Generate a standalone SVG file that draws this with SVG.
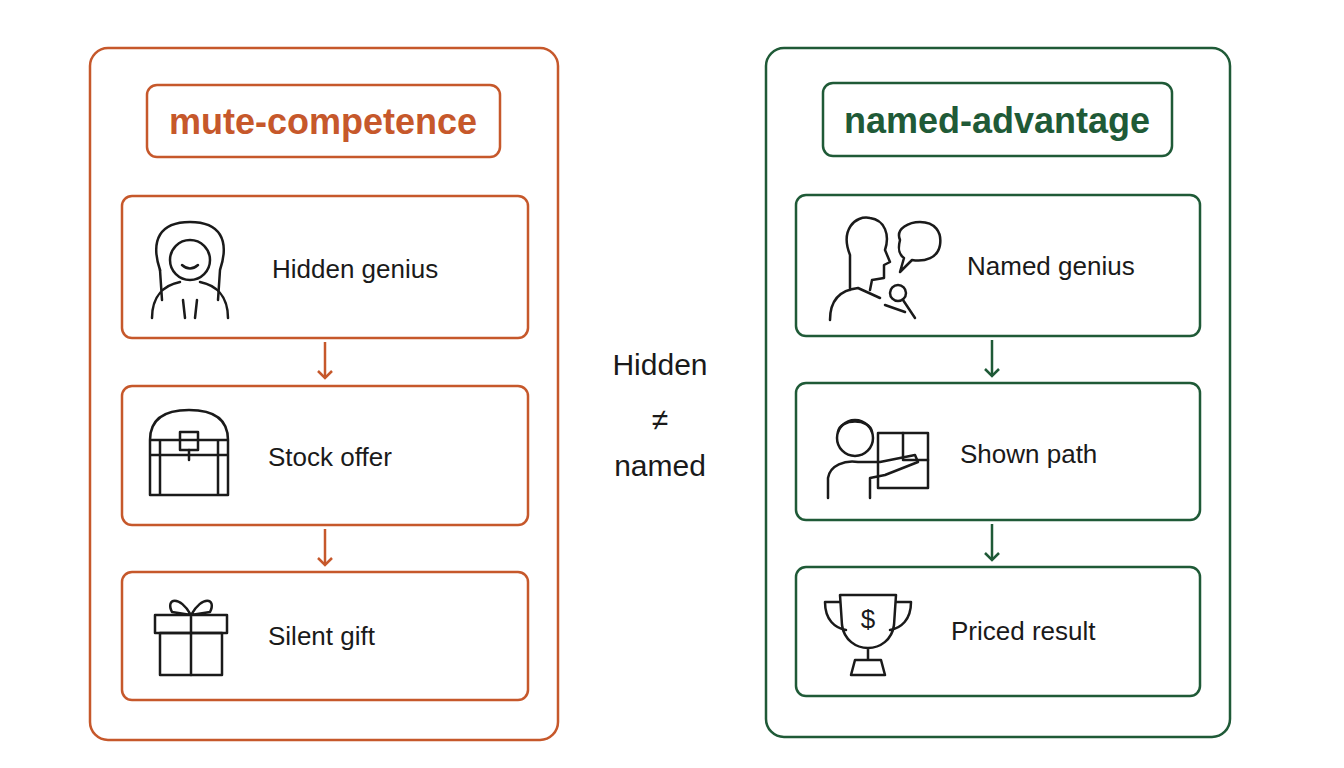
<svg xmlns="http://www.w3.org/2000/svg" width="1344" height="768" viewBox="0 0 1344 768">
<style>
.o{fill:none;stroke:#c6582b;stroke-width:2.5}
.g{fill:none;stroke:#1f5a37;stroke-width:2.5}
.ic{fill:none;stroke:#1a1a1a;stroke-width:2.5;stroke-linecap:round;stroke-linejoin:round}
text{font-family:"Liberation Sans",Arial,sans-serif}
.t{font-size:26px;fill:#1a1a1a}
.h{font-size:36px;font-weight:bold}
</style>
<defs>
<marker id="ao" markerWidth="14" markerHeight="16" refX="8" refY="8" orient="auto" markerUnits="userSpaceOnUse"><path d="M1,1 L8,8 L1,15" fill="none" stroke="#c6582b" stroke-width="2.5"/></marker>
<marker id="ag" markerWidth="14" markerHeight="16" refX="8" refY="8" orient="auto" markerUnits="userSpaceOnUse"><path d="M1,1 L8,8 L1,15" fill="none" stroke="#1f5a37" stroke-width="2.5"/></marker>
</defs>
<rect width="1344" height="768" fill="#fff"/>
<g id="left-panel">
<rect class="o" x="90" y="48" width="468" height="692" rx="18"/>
<rect class="o" x="147" y="85" width="353" height="72" rx="10"/>
<text class="h" x="323" y="134" text-anchor="middle" fill="#c6582b">mute-competence</text>
</g>
<g id="hidden-genius">
<rect class="o" x="122" y="196" width="406" height="142" rx="10"/>
<g class="ic"><path d="M160,270 C150,240 160,222 190,222 C220,222 230,240 220,270 L218,300"/><circle cx="190" cy="260" r="20"/><path d="M152,318 C152,295 165,285 180,282 M228,318 C228,295 215,285 200,282 M160,270 L162,300 M183,300 L185,318 M197,300 L195,318"/><path d="M182,265 Q190,272 198,265"/></g>
<text class="t" x="272" y="278">Hidden genius</text>
</g>
<g id="stock-offer">
<rect class="o" x="122" y="386" width="406" height="139" rx="10"/>
<g class="ic"><path d="M150,440 L150,495 L228,495 L228,440 Z M150,440 C150,415 170,410 189,410 C208,410 228,415 228,440 M160,440 L160,495 M218,440 L218,495 M150,455 L228,455"/><rect x="180" y="432" width="18" height="18"/><path d="M189,450 L189,460"/></g>
<text class="t" x="268" y="466">Stock offer</text>
</g>
<g id="silent-gift">
<rect class="o" x="122" y="572" width="406" height="128" rx="10"/>
<g class="ic"><rect x="155" y="615" width="72" height="18"/><rect x="160" y="633" width="62" height="42"/><path d="M191,615 L191,675 M191,615 C180,595 165,598 172,612 L191,615 C202,595 217,598 210,612 Z"/></g>
<text class="t" x="268" y="645">Silent gift</text>
</g>
<g id="right-panel">
<rect class="g" x="766" y="48" width="464" height="689" rx="18"/>
<rect class="g" x="823" y="83" width="349" height="73" rx="10"/>
<text class="h" x="997" y="133" text-anchor="middle" fill="#1f5a37">named-advantage</text>
</g>
<g id="named-genius">
<rect class="g" x="796" y="195" width="404" height="141" rx="10"/>
<g class="ic"><path d="M850,255 C840,230 855,215 870,218 C885,220 890,235 885,250 L890,262 L884,265 L884,278 L872,280 L870,290 M850,255 L850,290 M830,320 C830,300 840,290 858,288 L880,298"/><path d="M900,240 C895,228 910,222 920,222 C935,222 942,232 940,245 C938,258 925,262 912,260 L900,272 L904,258 C898,254 898,248 900,240 Z"/><circle cx="898" cy="293" r="8"/><path d="M903,300 L915,318 M885,305 L905,312"/></g>
<text class="t" x="967" y="275">Named genius</text>
</g>
<g id="shown-path">
<rect class="g" x="796" y="383" width="404" height="137" rx="10"/>
<g class="ic"><rect x="878" y="433" width="50" height="55"/><path d="M903,433 L903,460 L928,460"/><circle cx="855" cy="438" r="18"/><path d="M838,432 C840,418 870,418 872,432"/><path d="M828,498 L828,478 C830,465 845,460 858,462 L880,462 L915,455 L918,462 L885,475 L870,478 L870,498"/></g>
<text class="t" x="960" y="463">Shown path</text>
</g>
<g id="priced-result">
<rect class="g" x="796" y="567" width="404" height="129" rx="10"/>
<g class="ic"><path d="M840,595 L896,595 L894,625 C892,640 880,648 868,648 C856,648 844,640 842,625 Z M840,602 L825,602 C825,620 835,628 846,630 M896,602 L911,602 C911,620 901,628 890,630 M868,648 L868,660 M855,660 L881,660 L885,675 L851,675 Z"/></g>
<text x="868" y="628" font-size="26" text-anchor="middle" fill="#1a1a1a">$</text>
<text class="t" x="951" y="640">Priced result</text>
</g>
<g id="center-label">
<text x="660" y="375" font-size="30" text-anchor="middle" fill="#1a1a1a">Hidden</text>
<text x="660" y="430" font-size="30" text-anchor="middle" fill="#1a1a1a">≠</text>
<text x="660" y="476" font-size="30" text-anchor="middle" fill="#1a1a1a">named</text>
</g>
<g id="connectors">
<path d="M325,342 L325,378" stroke="#c6582b" stroke-width="2.5" marker-end="url(#ao)"/>
<path d="M325,529 L325,565" stroke="#c6582b" stroke-width="2.5" marker-end="url(#ao)"/>
<path d="M992,340 L992,376" stroke="#1f5a37" stroke-width="2.5" marker-end="url(#ag)"/>
<path d="M992,524 L992,560" stroke="#1f5a37" stroke-width="2.5" marker-end="url(#ag)"/>
</g>
</svg>
